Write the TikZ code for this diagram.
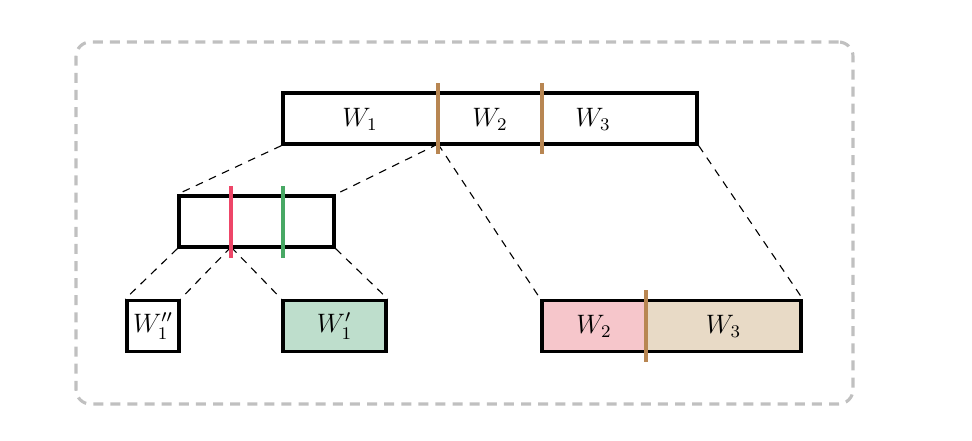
\documentclass[tikz,border=0pt]{standalone}
\usetikzlibrary{positioning}
\definecolor{divbrown}{RGB}{184,134,82}
\definecolor{pinkfill}{RGB}{246,198,203}
\definecolor{beigefill}{RGB}{232,218,198}
\definecolor{greenfill}{RGB}{190,222,204}
\definecolor{redline}{RGB}{238,70,104}
\definecolor{greenline}{RGB}{72,168,100}
\definecolor{framegray}{RGB}{192,192,192}
\begin{document}
\begin{tikzpicture}[x=0.45pt,y=-0.45pt,
  box/.style={draw=black,line width=1.5pt,inner sep=0pt,minimum height=51*0.45pt,font=\large},
  lbl/.style={inner sep=0pt,font=\large},
  conn/.style={draw=black,line width=0.5pt,dash pattern=on 3.5pt off 3pt},
  divider/.style={line width=1.5pt},
  frame/.style={draw=framegray,line width=1.4pt,dash pattern=on 4.5pt off 3.2pt,rounded corners=6.5pt}]
\useasboundingbox (0,0) rectangle (972,440);
% frame
\node[frame,inner sep=0pt,minimum width=777*0.45pt,minimum height=362*0.45pt] (frm) at (464.5,223) {};
% top bar
\node[box,minimum width=414*0.45pt] (top) at (490,118.5) {};
\node[lbl] (tw1) at (360,119) {$W_1$};
\node[lbl] (tw2) at (490,119) {$W_2$};
\node[lbl] (tw3) at (593,119) {$W_3$};
\coordinate (d1t) at (438,83); \coordinate (d1b) at (438,154);
\coordinate (d2t) at (542,83); \coordinate (d2b) at (542,154);
\coordinate (d1m) at (438,144);
% middle box
\node[box,minimum width=155*0.45pt] (mid) at (256.5,221.5) {};
\coordinate (rt) at (231,186); \coordinate (rb) at (231,258);
\coordinate (gt) at (283,186); \coordinate (gb) at (283,258);
\coordinate (rm) at (231,247);
% bottom boxes
\node[box,minimum width=52*0.45pt] (wpp) at (153,326) {$W_1''$};
\node[box,fill=greenfill,minimum width=103*0.45pt] (wp) at (334.5,326) {$W_1'$};
\node[box,fill=pinkfill,minimum width=104*0.45pt] (rpk) at (594,326) {$W_2$};
\node[box,fill=beigefill,minimum width=155*0.45pt] (rbg) at (723.5,326) {$W_3$};
\coordinate (d3t) at (646,290); \coordinate (d3b) at (646,362);
% connectors
\draw[conn] (top.south west) -- (mid.north west);
\draw[conn] (d1m) -- (mid.north east);
\draw[conn] (d1m) -- (rpk.north west);
\draw[conn] (top.south east) -- (rbg.north east);
\draw[conn] (mid.south west) -- (wpp.north west);
\draw[conn] (rm) -- (wpp.north east);
\draw[conn] (rm) -- (wp.north west);
\draw[conn] (mid.south east) -- (wp.north east);
% dividers
\draw[divider,divbrown] (d1t) -- (d1b);
\draw[divider,divbrown] (d2t) -- (d2b);
\draw[divider,redline] (rt) -- (rb);
\draw[divider,greenline] (gt) -- (gb);
\draw[divider,divbrown] (d3t) -- (d3b);
\end{tikzpicture}
\end{document}
